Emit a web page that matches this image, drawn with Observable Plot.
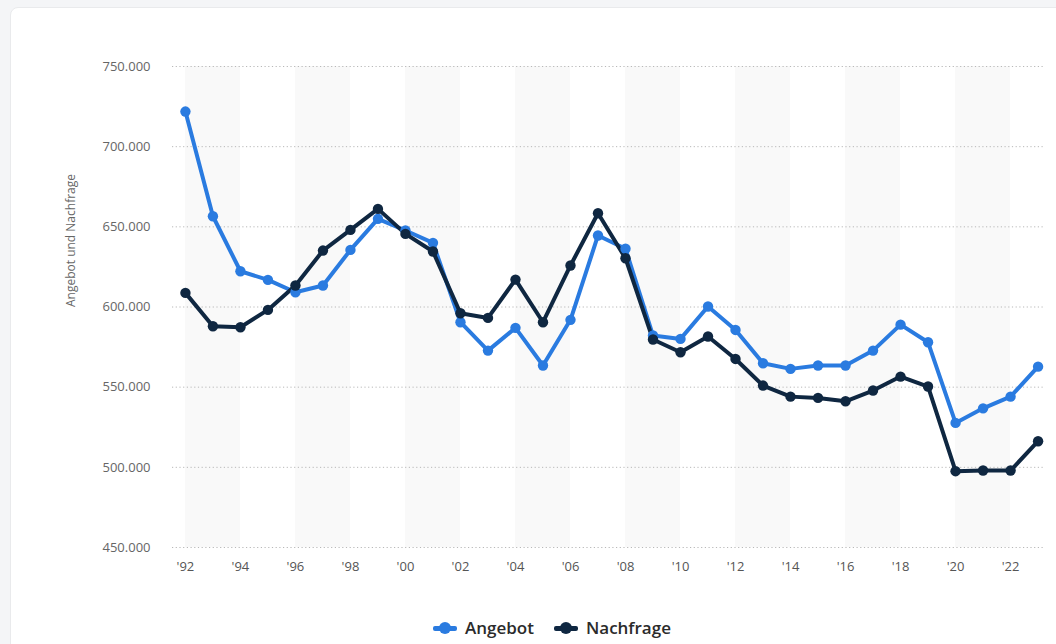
<!DOCTYPE html>
<html>
<head>
<meta charset="utf-8">
<script src="https://cdn.jsdelivr.net/npm/d3@7"></script>
<script src="https://cdn.jsdelivr.net/npm/@observablehq/plot@0.6"></script>
<style>
  html, body { margin: 0; padding: 0; background: #f4f5f7; width: 1056px; height: 644px; overflow: hidden; font-family: "Open Sans", "DejaVu Sans", sans-serif; }
  #card { position: absolute; left: 10px; top: 7px; width: 1060px; height: 660px; background: #fff; border: 1px solid #e9eaec; border-radius: 8px; }
  #chart { position: absolute; left: 0; top: 0; }
  #legend { position: absolute; left: 433px; top: 616px; white-space: nowrap; font-size: 17px; font-weight: 600; color: #2b2b2b; line-height: 24px; }
  .item { display: inline-flex; align-items: center; margin-right: 20px; }
  .sym { position: relative; width: 24px; height: 12px; margin-right: 8px; }
  .sym .ln { position: absolute; left: 0; top: 4px; width: 24px; height: 5px; border-radius: 2px; }
  .sym .dt { position: absolute; left: 6px; top: 0; width: 12px; height: 12px; border-radius: 50%; }
</style>
</head>
<body>
<div id="card"></div>
<div id="chart"></div>
<div id="legend"></div>
<script>
const years = [1992,1993,1994,1995,1996,1997,1998,1999,2000,2001,2002,2003,2004,2005,2006,2007,2008,2009,2010,2011,2012,2013,2014,2015,2016,2017,2018,2019,2020,2021,2022,2023];
const angebot = [721900,656600,622300,616900,609200,613400,635600,655000,647700,640000,590500,572800,587000,563500,592000,644600,636300,582200,580100,600300,585700,564900,561400,563500,563500,572800,589000,578000,527700,536800,544100,562800];
const nachfrage = [608800,588000,587400,598200,613400,635200,648100,661200,645600,634600,596100,593200,617100,590500,625900,658500,630400,579700,571800,581600,567600,551000,544100,543300,541200,547900,556600,550400,497600,498000,498000,516300];
const seriesNames = ["Angebot", "Nachfrage"];
const seriesColors = ["#2a7be0", "#0f2741"];
const xTicks = [1992,1994,1996,1998,2000,2002,2004,2006,2008,2010,2012,2014,2016,2018,2020,2022];
const yTicks = [450000,500000,550000,600000,650000,700000,750000];
const yLabel = "Angebot und Nachfrage";

const de = d3.formatLocale({decimal: ",", thousands: ".", grouping: [3], currency: ["", " €"]});
const fmt = de.format(",d");

const rows = [];
years.forEach((y, i) => {
  rows.push({year: y, value: angebot[i], series: seriesNames[0]});
  rows.push({year: y, value: nachfrage[i], series: seriesNames[1]});
});
const bands = xTicks.filter((d, i) => i % 2 === 0).map(d => ({x1: d, x2: d + 2}));

const chart = Plot.plot({
  width: 1056,
  height: 600,
  marginLeft: 172,
  marginRight: 11,
  marginTop: 66,
  marginBottom: 53,
  style: {background: "transparent", fontFamily: "'Open Sans', 'DejaVu Sans', sans-serif"},
  x: {domain: [1991.53, 2023.27], ticks: xTicks},
  y: {domain: [450000, 750000], ticks: yTicks},
  color: {domain: seriesNames, range: seriesColors},
  marks: [
    Plot.rect(bands, {x1: "x1", x2: "x2", y1: 450000, y2: 750000, fill: "#f9f9f9"}),
    Plot.gridY(yTicks, {stroke: "#b8b8b8", strokeOpacity: 1, strokeDasharray: "1.2,2.5", strokeWidth: 1}),
    Plot.axisY(yTicks, {tickSize: 0, tickPadding: 22, tickFormat: fmt, fontSize: 13, fill: "#666", label: null}),
    Plot.axisX(xTicks, {tickSize: 0, tickPadding: 14, tickFormat: d => "'" + String(d).slice(2), fontSize: 13, fill: "#555", label: null}),
    Plot.text([yLabel], {frameAnchor: "left", dx: -101, rotate: -90, fontSize: 12, fill: "#666"}),
    Plot.line(rows, {x: "year", y: "value", z: "series", stroke: "series", strokeWidth: 4, strokeLinejoin: "round", strokeLinecap: "round"}),
    Plot.dot(rows, {x: "year", y: "value", fill: "series", r: 5.2})
  ]
});
document.getElementById("chart").appendChild(chart);

const legend = document.getElementById("legend");
seriesNames.forEach((n, i) => {
  const it = document.createElement("span");
  it.className = "item";
  it.innerHTML = `<span class="sym"><span class="ln" style="background:${seriesColors[i]}"></span><span class="dt" style="background:${seriesColors[i]}"></span></span>${n}`;
  legend.appendChild(it);
});
</script>
</body>
</html>
